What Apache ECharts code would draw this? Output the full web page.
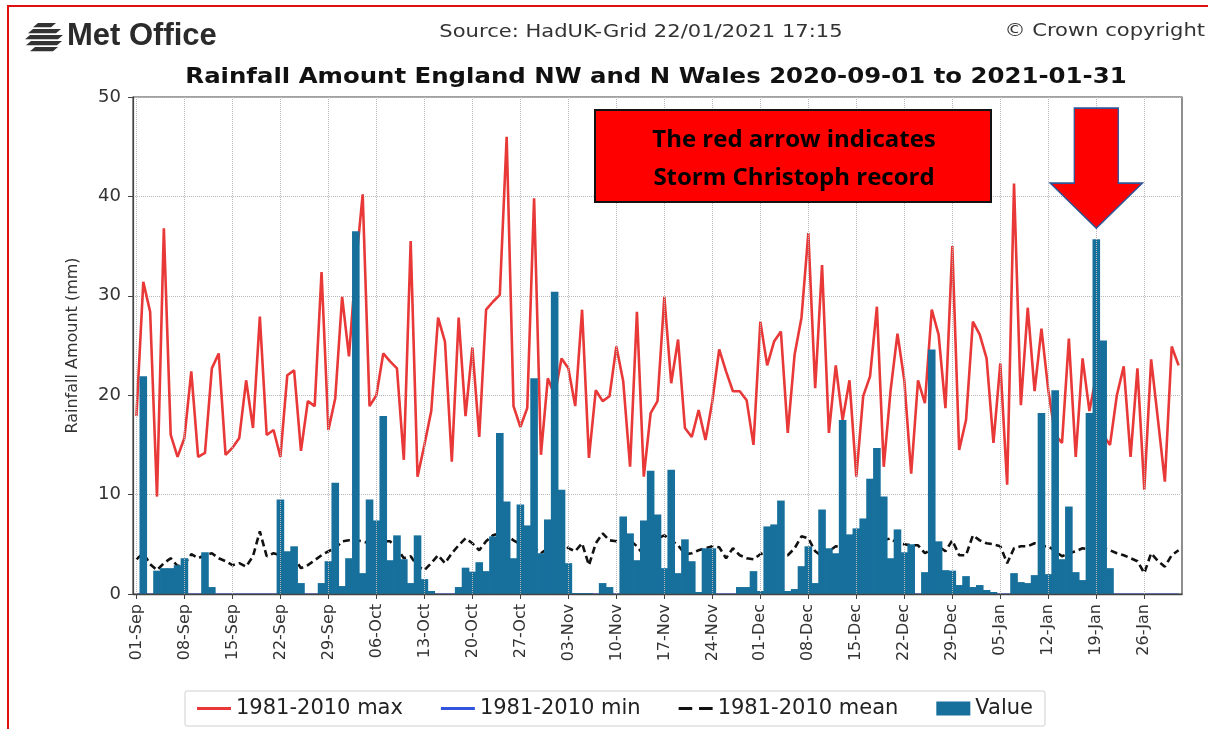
<!DOCTYPE html>
<html>
<head>
<meta charset="utf-8">
<script src="https://cdn.jsdelivr.net/npm/echarts@6/dist/echarts.min.js"></script>
<style>
  html, body { margin: 0; padding: 0; background: #ffffff; }
  #chart { width: 1208px; height: 729px; }
</style>
</head>
<body>
<div id="chart"></div>
<script>
// Daily rainfall, England NW and N Wales, 1 Sep 2020 – 31 Jan 2021 (mm)
const firstDayUTC = Date.UTC(2020, 8, 1);
const monthNames = ['Jan', 'Feb', 'Mar', 'Apr', 'May', 'Jun', 'Jul', 'Aug', 'Sep', 'Oct', 'Nov', 'Dec'];

// 1981-2010 daily maximum
const maxValues = [
  17.9, 31.4, 28.4, 9.8, 36.8, 16.0, 13.8, 15.7, 22.4, 13.8,
  14.2, 22.7, 24.2, 14.0, 14.7, 15.7, 21.5, 16.7, 27.9, 16.0,
  16.5, 13.8, 22.0, 22.5, 14.4, 19.4, 18.9, 32.4, 16.5, 19.7,
  29.9, 23.9, 33.0, 40.2, 18.9, 20.0, 24.2, 23.4, 22.7, 13.5,
  35.5, 11.8, 15.0, 18.4, 27.8, 25.4, 13.3, 27.8, 17.9, 24.8,
  15.8, 28.6, 29.4, 30.1, 46.0, 18.9, 16.8, 18.7, 39.8, 14.0,
  21.7, 20.0, 23.7, 22.7, 18.9, 28.6, 13.7, 20.5, 19.4, 19.9,
  24.9, 21.4, 12.8, 28.4, 11.8, 18.2, 19.4, 29.9, 21.2, 25.6,
  16.7, 15.8, 18.5, 15.5, 19.4, 24.6, 22.4, 20.4, 20.4, 19.5,
  15.0, 27.4, 23.0, 25.4, 26.4, 16.2, 24.1, 27.8, 36.3, 20.7,
  33.1, 16.2, 23.0, 17.5, 21.5, 11.8, 19.9, 21.9, 28.9, 12.8,
  20.5, 26.2, 21.5, 12.1, 21.5, 19.2, 28.6, 26.1, 18.7, 35.0,
  14.5, 17.5, 27.4, 26.1, 23.7, 15.2, 23.2, 11.0, 41.3, 19.0,
  28.8, 20.4, 26.7, 20.5, 16.0, 15.2, 25.7, 13.8, 23.7, 18.4,
  22.0, 16.0, 15.0, 20.0, 22.9, 13.8, 22.7, 10.5, 23.6, 17.5,
  11.3, 24.9, 23.0
];

// 1981-2010 daily minimum
const minValues = [
  0, 0, 0, 0, 0, 0, 0, 0, 0, 0, 0, 0, 0, 0, 0, 0, 0, 0, 0, 0,
  0, 0, 0, 0, 0, 0, 0, 0, 0, 0, 0, 0, 0, 0, 0, 0, 0, 0, 0, 0,
  0, 0, 0, 0, 0, 0, 0, 0, 0, 0, 0, 0, 0, 0, 0, 0, 0, 0, 0, 0,
  0, 0, 0, 0, 0, 0, 0, 0, 0, 0, 0, 0, 0, 0, 0, 0, 0, 0, 0, 0,
  0, 0, 0, 0, 0, 0, 0, 0, 0, 0, 0, 0, 0, 0, 0, 0, 0, 0, 0, 0,
  0, 0, 0, 0, 0, 0, 0, 0, 0, 0, 0, 0, 0, 0, 0, 0, 0, 0, 0, 0,
  0, 0, 0, 0, 0, 0, 0, 0, 0, 0, 0, 0, 0, 0, 0, 0, 0, 0, 0, 0,
  0, 0, 0, 0, 0, 0, 0, 0, 0, 0, 0, 0, 0
];

// 1981-2010 daily mean
const meanValues = [
  3.5, 4.1, 3.0, 2.4, 3.1, 3.6, 2.8, 3.0, 4.0, 3.6,
  3.9, 4.1, 3.6, 3.3, 2.9, 3.1, 2.75, 3.8, 6.3, 3.8,
  4.1, 3.9, 4.1, 3.6, 2.6, 2.9, 3.4, 3.9, 4.3, 4.6,
  5.3, 5.4, 5.4, 5.3, 5.1, 4.9, 5.3, 5.3, 4.6, 3.6,
  3.8, 2.8, 2.4, 3.1, 3.9, 3.1, 4.1, 4.9, 5.6, 5.1,
  4.4, 5.3, 5.9, 6.1, 5.9, 5.4, 5.0, 4.8, 4.6, 4.1,
  4.6, 5.0, 5.4, 4.6, 4.3, 5.1, 2.9, 5.1, 6.1, 5.4,
  5.3, 5.2, 5.4, 4.8, 3.9, 4.8, 5.6, 5.9, 5.4, 4.9,
  4.0, 4.1, 4.4, 4.6, 4.8, 4.7, 3.6, 4.6, 3.9, 3.6,
  3.5, 4.0, 4.3, 4.3, 4.2, 3.9, 4.6, 5.8, 5.6, 4.3,
  3.8, 4.3, 4.8, 4.7, 4.5, 4.8, 5.0, 4.8, 5.2, 5.4,
  5.6, 5.1, 5.0, 4.9, 4.9, 4.1, 4.5, 4.8, 4.3, 5.4,
  3.9, 3.9, 5.9, 5.4, 5.1, 5.0, 4.8, 3.1, 4.6, 4.8,
  4.8, 5.1, 4.8, 4.8, 4.3, 3.8, 4.1, 4.3, 4.6, 4.5,
  4.5, 4.6, 4.4, 4.1, 3.9, 3.6, 3.3, 2.1, 4.1, 3.3,
  2.75, 3.9, 4.4
];

// Observed daily rainfall 2020-21
const rainValues = [
  0, 21.9, 0, 2.35, 2.6, 2.6, 2.9, 3.6, 0, 0,
  4.2, 0.7, 0, 0, 0, 0, 0, 0, 0, 0,
  0, 9.5, 4.3, 4.8, 1.1, 0, 0, 1.1, 3.3, 11.2,
  0.8, 3.6, 36.5, 2.1, 9.5, 7.4, 17.9, 3.4, 5.9, 3.5,
  1.1, 5.9, 1.5, 0.3, 0, 0, 0, 0.7, 2.65, 2.25,
  3.2, 2.3, 5.8, 16.2, 9.3, 3.6, 9.0, 6.9, 21.7, 4.1,
  7.5, 30.4, 10.5, 3.1, 0.1, 0.1, 0.1, 0, 1.1, 0.7,
  0, 7.8, 6.1, 3.4, 7.4, 12.4, 8.0, 2.6, 12.5, 2.1,
  5.5, 3.3, 0.2, 4.6, 4.6, 0, 0, 0, 0.7, 0.7,
  2.3, 0.3, 6.8, 7.0, 9.4, 0.3, 0.5, 2.8, 4.8, 1.1,
  8.5, 4.6, 4.1, 17.5, 6.0, 6.6, 7.6, 11.6, 14.7, 9.8,
  3.6, 6.5, 4.2, 5.0, 0, 2.2, 24.6, 5.3, 2.4, 2.35,
  0.9, 1.8, 0.7, 0.9, 0.4, 0.2, 0, 0, 2.1, 1.2,
  1.1, 1.9, 18.2, 2.0, 20.5, 3.5, 8.8, 2.2, 1.4, 18.2,
  35.7, 25.5, 2.6, 0, 0, 0, 0, 0, 0, 0,
  0, 0, 0
];

const yTicks = [0, 10, 20, 30, 40, 50];
const labelEvery = 7;            // one date label per week
const stormDay = '19-Jan';       // Storm Christoph

// Day labels "DD-Mon"
const dayLabels = [];
for (let i = 0; i < rainValues.length; i++) {
  const d = new Date(firstDayUTC + i * 86400000);
  dayLabels.push(String(d.getUTCDate()).padStart(2, '0') + '-' + monthNames[d.getUTCMonth()]);
}
const stormIndex = dayLabels.indexOf(stormDay);

const FONT = "'DejaVu Sans', sans-serif";
const TEXT_STRETCH = 1.17;   // header lettering is set wide
const chart = echarts.init(document.getElementById('chart'), null, { renderer: 'canvas' });

// Met Office globe mark: slanted stripes inside a round outline
const logoStripes = [];
const stripeRows = [[8, 0, 18], [3, 6, 28], [0, 12, 33], [1, 18, 31], [5, 24, 23]];
stripeRows.forEach(function (r) {
  logoStripes.push({
    type: 'polygon',
    shape: { points: [[r[0] + 5, r[1]], [r[0] + 5 + r[2], r[1]], [r[0] + r[2], r[1] + 4.2], [r[0], r[1] + 4.2]] },
    style: { fill: '#333333' }
  });
});

// Legend glyphs: solid stroke, dashed stroke
const solidGlyph = 'path://M0,0 L30,0 L30,2.6 L0,2.6 Z';
const dashedGlyph = 'path://M0,0 L12,0 L12,2.6 L0,2.6 Z M18,0 L30,0 L30,2.6 L18,2.6 Z';

const option = {
  backgroundColor: '#ffffff',
  animation: false,
  grid: {
    left: 133, right: 26, top: 97, bottom: 135,
    show: true, borderColor: '#444', borderWidth: 1.2
  },
  legend: {
    left: 185, top: 691,
    padding: [7, 12, 7, 12],
    borderColor: '#cfcfcf', borderWidth: 1, borderRadius: 2,
    itemWidth: 34, itemHeight: 14, itemGap: 38,
    textStyle: { fontFamily: FONT, fontSize: 21, color: '#222' },
    data: [
      { name: '1981-2010 max', icon: solidGlyph },
      { name: '1981-2010 min', icon: solidGlyph },
      { name: '1981-2010 mean', icon: dashedGlyph },
      { name: 'Value', icon: 'rect' }
    ]
  },
  xAxis: {
    type: 'category',
    data: dayLabels,
    boundaryGap: true,
    z: 5,
    axisLine: { show: true, lineStyle: { color: '#444', width: 1.4 } },
    axisTick: { show: true, interval: labelEvery - 1, alignWithLabel: true, length: 5, lineStyle: { color: '#444' } },
    axisLabel: { interval: labelEvery - 1, rotate: 90, margin: 10, fontFamily: FONT, fontSize: 16, color: '#333' },
    splitLine: { show: true, interval: labelEvery - 1, alignWithLabel: true, lineStyle: { type: 'dotted', color: '#b8b8b8', width: 1 } }
  },
  yAxis: {
    type: 'value',
    min: yTicks[0], max: yTicks[yTicks.length - 1], interval: yTicks[1] - yTicks[0],
    name: 'Rainfall Amount (mm)',
    nameLocation: 'middle', nameGap: 52,
    nameTextStyle: { fontFamily: FONT, fontSize: 16, color: '#333' },
    axisLine: { show: true, lineStyle: { color: '#444', width: 1.2 } },
    axisTick: { show: true, length: 5, lineStyle: { color: '#444' } },
    axisLabel: { margin: 12, fontFamily: FONT, fontSize: 18, color: '#333' },
    splitLine: { show: true, lineStyle: { type: 'dotted', color: '#b8b8b8', width: 1 } }
  },
  series: [
    {
      name: '1981-2010 max', type: 'line', data: maxValues,
      symbol: 'none', z: 2,
      lineStyle: { color: '#e83838', width: 2.6 }, itemStyle: { color: '#e83838' }
    },
    {
      name: '1981-2010 min', type: 'line', data: minValues,
      symbol: 'none', z: 1,
      lineStyle: { color: '#3355dd', width: 1 }, itemStyle: { color: '#3355dd' }
    },
    {
      name: '1981-2010 mean', type: 'line', data: meanValues,
      symbol: 'none', z: 2,
      lineStyle: { color: '#111111', width: 2.6, type: [7, 4] }, itemStyle: { color: '#111111' }
    },
    {
      name: 'Value', type: 'bar', data: rainValues,
      barWidth: 7.6, z: 3,
      itemStyle: { color: '#17709c' },
      markPoint: {
        silent: true,
        symbol: 'path://M24,0 L68,0 L68,75 L92,75 L46,120 L0,75 L24,75 Z',
        symbolSize: [92, 120],
        symbolOffset: [0, -71],
        itemStyle: { color: '#ff0000', borderColor: '#2f5597', borderWidth: 1.5 },
        label: { show: false },
        data: [{ coord: [stormDay, rainValues[stormIndex]] }]
      }
    }
  ],
  graphic: [
    {
      type: 'rect', silent: true,
      shape: { x: 8, y: 6, width: 1230, height: 760 },
      style: { fill: 'none', stroke: '#e01010', lineWidth: 2 }
    },
    { type: 'group', x: 25, y: 23, children: logoStripes },
    {
      type: 'text', x: 67, y: 36,
      style: { text: 'Met Office', x: 0, y: 0, font: "bold 31px 'Liberation Sans', sans-serif", fill: '#2b2b2b', verticalAlign: 'middle' }
    },
    {
      type: 'text', x: 641, y: 32, scaleX: TEXT_STRETCH,
      style: { text: 'Source: HadUK-Grid 22/01/2021 17:15', x: 0, y: 0, font: '18px ' + FONT, fill: '#333', align: 'center', verticalAlign: 'middle' }
    },
    {
      type: 'text', x: 1205, y: 31, scaleX: TEXT_STRETCH,
      style: { text: '\u00a9 Crown copyright', x: 0, y: 0, font: '18px ' + FONT, fill: '#333', align: 'right', verticalAlign: 'middle' }
    },
    {
      type: 'text', x: 656, y: 78, scaleX: 1.19,
      style: { text: 'Rainfall Amount England NW and N Wales 2020-09-01 to 2021-01-31', x: 0, y: 0, font: 'bold 20.5px ' + FONT, fill: '#111', align: 'center', verticalAlign: 'middle' }
    },
    {
      type: 'rect', z: 10,
      shape: { x: 595, y: 110, width: 396, height: 92 },
      style: { fill: '#ff0000', stroke: '#111', lineWidth: 2 }
    },
    {
      type: 'text', z: 11, x: 794, y: 159,
      style: {
        text: 'The red arrow indicates\nStorm Christoph record',
        x: 0, y: 0,
        font: "bold 24px 'Open Sans', 'Liberation Sans', sans-serif",
        lineHeight: 38, fill: '#000', align: 'center', verticalAlign: 'middle'
      }
    }
  ]
};

chart.setOption(option);
</script>
</body>
</html>
